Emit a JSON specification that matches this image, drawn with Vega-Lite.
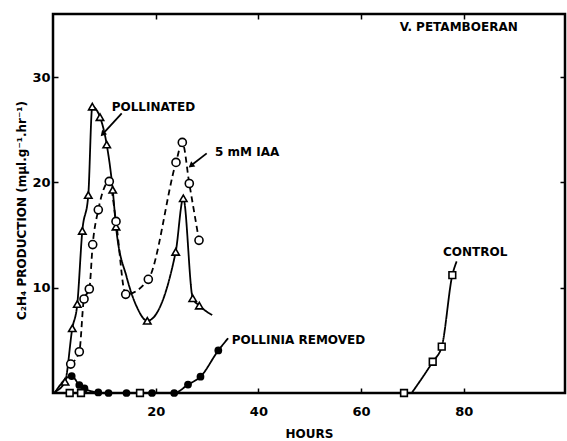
{
  "$schema": "https://vega.github.io/schema/vega-lite/v6.json",
  "width": 512,
  "height": 379,
  "autosize": "none",
  "padding": {"left": 53, "top": 14, "right": 2, "bottom": 48},
  "background": "white",
  "config": {
    "view": {"stroke": "black", "strokeWidth": 2.5},
    "axis": {
      "domain": false,
      "grid": false,
      "tickColor": "black",
      "tickWidth": 1.5,
      "tickSize": -5,
      "labelFont": "DejaVu Sans",
      "labelFontWeight": "bold",
      "labelFontSize": 13,
      "labelColor": "black",
      "titleFont": "DejaVu Sans",
      "titleFontWeight": "bold",
      "titleFontSize": 12,
      "titleColor": "black"
    }
  },
  "datasets": {
    "points": [
      {"series": "Pollinated", "hours": 2.34, "c2h4": 1.07},
      {"series": "Pollinated", "hours": 3.76, "c2h4": 6.14},
      {"series": "Pollinated", "hours": 4.73, "c2h4": 8.45},
      {"series": "Pollinated", "hours": 5.71, "c2h4": 15.4},
      {"series": "Pollinated", "hours": 6.87, "c2h4": 18.8},
      {"series": "Pollinated", "hours": 7.65, "c2h4": 27.2},
      {"series": "Pollinated", "hours": 9.15, "c2h4": 26.2},
      {"series": "Pollinated", "hours": 10.46, "c2h4": 23.6},
      {"series": "Pollinated", "hours": 11.63, "c2h4": 19.3},
      {"series": "Pollinated", "hours": 12.27, "c2h4": 15.8},
      {"series": "Pollinated", "hours": 18.36, "c2h4": 6.86},
      {"series": "Pollinated", "hours": 23.89, "c2h4": 13.4},
      {"series": "Pollinated", "hours": 25.37, "c2h4": 18.5},
      {"series": "Pollinated", "hours": 27.21, "c2h4": 9.0},
      {"series": "Pollinated", "hours": 28.49, "c2h4": 8.3},
      {"series": "IAA", "hours": 3.45, "c2h4": 2.75},
      {"series": "IAA", "hours": 5.12, "c2h4": 3.92},
      {"series": "IAA", "hours": 6.04, "c2h4": 8.93},
      {"series": "IAA", "hours": 7.07, "c2h4": 9.88},
      {"series": "IAA", "hours": 7.73, "c2h4": 14.1},
      {"series": "IAA", "hours": 8.82, "c2h4": 17.4},
      {"series": "IAA", "hours": 10.96, "c2h4": 20.1},
      {"series": "IAA", "hours": 12.27, "c2h4": 16.3},
      {"series": "IAA", "hours": 14.16, "c2h4": 9.37},
      {"series": "IAA", "hours": 18.56, "c2h4": 10.8},
      {"series": "IAA", "hours": 23.95, "c2h4": 21.9},
      {"series": "IAA", "hours": 25.18, "c2h4": 23.8},
      {"series": "IAA", "hours": 26.54, "c2h4": 19.9},
      {"series": "IAA", "hours": 28.43, "c2h4": 14.5},
      {"series": "Pollinia removed", "hours": 3.64, "c2h4": 1.61},
      {"series": "Pollinia removed", "hours": 5.12, "c2h4": 0.76},
      {"series": "Pollinia removed", "hours": 6.13, "c2h4": 0.43},
      {"series": "Pollinia removed", "hours": 8.82, "c2h4": 0.05},
      {"series": "Pollinia removed", "hours": 10.81, "c2h4": 0},
      {"series": "Pollinia removed", "hours": 14.31, "c2h4": 0},
      {"series": "Pollinia removed", "hours": 19.28, "c2h4": 0},
      {"series": "Pollinia removed", "hours": 23.6, "c2h4": 0},
      {"series": "Pollinia removed", "hours": 26.29, "c2h4": 0.8},
      {"series": "Pollinia removed", "hours": 28.72, "c2h4": 1.55},
      {"series": "Pollinia removed", "hours": 32.19, "c2h4": 4.04},
      {"series": "Control", "hours": 3.25, "c2h4": 0},
      {"series": "Control", "hours": 5.45, "c2h4": 0},
      {"series": "Control", "hours": 16.94, "c2h4": 0},
      {"series": "Control", "hours": 68.35, "c2h4": 0},
      {"series": "Control", "hours": 73.94, "c2h4": 2.97},
      {"series": "Control", "hours": 75.7, "c2h4": 4.4},
      {"series": "Control", "hours": 77.76, "c2h4": 11.2}
    ],
    "curves": [
      {"series": "Pollinated", "hours": 0.3, "c2h4": 0.1},
      {"series": "Pollinated", "hours": 2.34, "c2h4": 1.07},
      {"series": "Pollinated", "hours": 3.76, "c2h4": 6.14},
      {"series": "Pollinated", "hours": 4.73, "c2h4": 8.45},
      {"series": "Pollinated", "hours": 5.71, "c2h4": 15.4},
      {"series": "Pollinated", "hours": 6.87, "c2h4": 18.8},
      {"series": "Pollinated", "hours": 7.65, "c2h4": 27.2},
      {"series": "Pollinated", "hours": 9.15, "c2h4": 26.2},
      {"series": "Pollinated", "hours": 10.46, "c2h4": 23.6},
      {"series": "Pollinated", "hours": 11.63, "c2h4": 19.3},
      {"series": "Pollinated", "hours": 12.27, "c2h4": 15.8},
      {"series": "Pollinated", "hours": 14.35, "c2h4": 11.0},
      {"series": "Pollinated", "hours": 16.3, "c2h4": 8.2},
      {"series": "Pollinated", "hours": 18.36, "c2h4": 6.86},
      {"series": "Pollinated", "hours": 23.89, "c2h4": 13.4},
      {"series": "Pollinated", "hours": 25.37, "c2h4": 18.5},
      {"series": "Pollinated", "hours": 27.21, "c2h4": 9.0},
      {"series": "Pollinated", "hours": 28.49, "c2h4": 8.3},
      {"series": "Pollinated", "hours": 31.0, "c2h4": 7.4},
      {"series": "IAA", "hours": 3.45, "c2h4": 2.75},
      {"series": "IAA", "hours": 5.12, "c2h4": 3.92},
      {"series": "IAA", "hours": 6.04, "c2h4": 8.93},
      {"series": "IAA", "hours": 7.07, "c2h4": 9.88},
      {"series": "IAA", "hours": 7.73, "c2h4": 14.1},
      {"series": "IAA", "hours": 8.82, "c2h4": 17.4},
      {"series": "IAA", "hours": 10.96, "c2h4": 20.1},
      {"series": "IAA", "hours": 12.27, "c2h4": 16.3},
      {"series": "IAA", "hours": 14.16, "c2h4": 9.37},
      {"series": "IAA", "hours": 18.56, "c2h4": 10.8},
      {"series": "IAA", "hours": 23.95, "c2h4": 21.9},
      {"series": "IAA", "hours": 25.18, "c2h4": 23.8},
      {"series": "IAA", "hours": 26.54, "c2h4": 19.9},
      {"series": "IAA", "hours": 28.43, "c2h4": 14.5},
      {"series": "Pollinia removed", "hours": 0.3, "c2h4": 0},
      {"series": "Pollinia removed", "hours": 3.64, "c2h4": 1.61},
      {"series": "Pollinia removed", "hours": 5.12, "c2h4": 0.76},
      {"series": "Pollinia removed", "hours": 6.13, "c2h4": 0.43},
      {"series": "Pollinia removed", "hours": 8.82, "c2h4": 0.05},
      {"series": "Pollinia removed", "hours": 10.81, "c2h4": 0},
      {"series": "Pollinia removed", "hours": 23.6, "c2h4": 0},
      {"series": "Pollinia removed", "hours": 26.29, "c2h4": 0.8},
      {"series": "Pollinia removed", "hours": 28.72, "c2h4": 1.55},
      {"series": "Pollinia removed", "hours": 32.19, "c2h4": 4.04},
      {"series": "Pollinia removed", "hours": 34.1, "c2h4": 5.2},
      {"series": "Control", "hours": 69.85, "c2h4": 0},
      {"series": "Control", "hours": 73.94, "c2h4": 2.97},
      {"series": "Control", "hours": 75.7, "c2h4": 4.4},
      {"series": "Control", "hours": 77.76, "c2h4": 11.2},
      {"series": "Control", "hours": 78.6, "c2h4": 12.5}
    ],
    "labels": [
      {"label": "POLLINATED", "hours": 11.43, "c2h4": 27.2},
      {"label": "5 mM IAA", "hours": 31.55, "c2h4": 22.9},
      {"label": "POLLINIA REMOVED", "hours": 34.8, "c2h4": 5.03},
      {"label": "CONTROL", "hours": 75.95, "c2h4": 13.4},
      {"label": "V. PETAMBOERAN", "hours": 67.5, "c2h4": 34.76}
    ],
    "arrows": [
      {"label": "POLLINATED", "hours": 13.38, "c2h4": 26.56, "hours2": 9.8, "c2h42": 24.66},
      {"label": "5 mM IAA", "hours": 29.93, "c2h4": 22.76, "hours2": 27.01, "c2h42": 21.65}
    ]
  },
  "layer": [
    {
      "data": {"name": "curves"},
      "mark": {"type": "line", "interpolate": "monotone", "color": "black", "strokeWidth": 1.8},
      "encoding": {
        "x": {"field": "hours", "type": "quantitative", "scale": {"domain": [0, 99.7], "nice": false, "zero": false}, "axis": null},
        "y": {"field": "c2h4", "type": "quantitative", "scale": {"domain": [0, 36], "nice": false}, "axis": null},
        "detail": {"field": "series"},
        "strokeDash": {"field": "series", "type": "nominal", "scale": {"domain": ["Pollinated", "IAA", "Pollinia removed", "Control"], "range": [[1, 0], [6, 4], [1, 0], [1, 0]]}, "legend": null}
      }
    },
    {
      "data": {"name": "arrows"},
      "mark": {"type": "rule", "color": "black", "strokeWidth": 1.8},
      "encoding": {
        "x": {"field": "hours", "type": "quantitative", "scale": {"domain": [0, 99.7], "nice": false, "zero": false}, "axis": null},
        "y": {"field": "c2h4", "type": "quantitative", "scale": {"domain": [0, 36], "nice": false}, "axis": null},
        "x2": {"field": "hours2"},
        "y2": {"field": "c2h42"}
      }
    },
    {
      "data": {"name": "arrows"},
      "transform": [{"filter": "datum.label == 'POLLINATED'"}],
      "mark": {"type": "point", "shape": "triangle", "filled": true, "color": "black", "size": 45, "angle": 222, "opacity": 1},
      "encoding": {
        "x": {"field": "hours2", "type": "quantitative", "scale": {"domain": [0, 99.7], "nice": false, "zero": false}, "axis": null},
        "y": {"field": "c2h42", "type": "quantitative", "scale": {"domain": [0, 36], "nice": false}, "axis": null}
      }
    },
    {
      "data": {"name": "arrows"},
      "transform": [{"filter": "datum.label == '5 mM IAA'"}],
      "mark": {"type": "point", "shape": "triangle", "filled": true, "color": "black", "size": 45, "angle": 232, "opacity": 1},
      "encoding": {
        "x": {"field": "hours2", "type": "quantitative", "scale": {"domain": [0, 99.7], "nice": false, "zero": false}, "axis": null},
        "y": {"field": "c2h42", "type": "quantitative", "scale": {"domain": [0, 36], "nice": false}, "axis": null}
      }
    },
    {
      "data": {"name": "points"},
      "transform": [{"filter": "datum.series == 'Pollinated'"}],
      "mark": {"type": "point", "shape": "triangle-up", "filled": true, "fill": "white", "stroke": "black", "strokeWidth": 1.6, "size": 55, "opacity": 1},
      "encoding": {
        "x": {"field": "hours", "type": "quantitative", "scale": {"domain": [0, 99.7], "nice": false, "zero": false},
          "axis": {"orient": "bottom", "values": [20, 40, 60, 80], "labelPadding": 17, "title": "HOURS", "titleBaseline": "top", "titleY": 35, "titleX": 256}},
        "y": {"field": "c2h4", "type": "quantitative", "scale": {"domain": [0, 36], "nice": false},
          "axis": {"orient": "left", "values": [10, 20, 30], "labelPadding": 8, "title": "C₂H₄  PRODUCTION  (mµl.g⁻¹.hr⁻¹)", "titleAngle": 270, "titleAlign": "center", "titleBaseline": "middle", "titleX": -32, "titleY": 196}}
      }
    },
    {
      "data": {"name": "points"},
      "transform": [{"filter": "datum.series == 'IAA'"}],
      "mark": {"type": "point", "shape": "circle", "filled": true, "fill": "white", "stroke": "black", "strokeWidth": 1.6, "size": 65, "opacity": 1},
      "encoding": {
        "x": {"field": "hours", "type": "quantitative", "scale": {"domain": [0, 99.7], "nice": false, "zero": false},
          "axis": {"orient": "top", "values": [20, 40, 60, 80], "labels": false, "title": null}},
        "y": {"field": "c2h4", "type": "quantitative", "scale": {"domain": [0, 36], "nice": false},
          "axis": {"orient": "right", "values": [10, 20, 30], "labels": false, "title": null}}
      }
    },
    {
      "data": {"name": "points"},
      "transform": [{"filter": "datum.series == 'Pollinia removed'"}],
      "mark": {"type": "point", "shape": "circle", "filled": true, "color": "black", "size": 60, "opacity": 1},
      "encoding": {
        "x": {"field": "hours", "type": "quantitative", "scale": {"domain": [0, 99.7], "nice": false, "zero": false}, "axis": null},
        "y": {"field": "c2h4", "type": "quantitative", "scale": {"domain": [0, 36], "nice": false}, "axis": null}
      }
    },
    {
      "data": {"name": "points"},
      "transform": [{"filter": "datum.series == 'Control'"}],
      "mark": {"type": "point", "shape": "square", "filled": true, "fill": "white", "stroke": "black", "strokeWidth": 1.6, "size": 45, "opacity": 1},
      "encoding": {
        "x": {"field": "hours", "type": "quantitative", "scale": {"domain": [0, 99.7], "nice": false, "zero": false}, "axis": null},
        "y": {"field": "c2h4", "type": "quantitative", "scale": {"domain": [0, 36], "nice": false}, "axis": null}
      }
    },
    {
      "data": {"name": "labels"},
      "mark": {"type": "text", "align": "left", "baseline": "middle", "font": "DejaVu Sans", "fontWeight": "bold", "fontSize": 12, "color": "black"},
      "encoding": {
        "x": {"field": "hours", "type": "quantitative", "scale": {"domain": [0, 99.7], "nice": false, "zero": false}, "axis": null},
        "y": {"field": "c2h4", "type": "quantitative", "scale": {"domain": [0, 36], "nice": false}, "axis": null},
        "text": {"field": "label"}
      }
    }
  ],
  "resolve": {"axis": {"x": "independent", "y": "independent"}}
}
